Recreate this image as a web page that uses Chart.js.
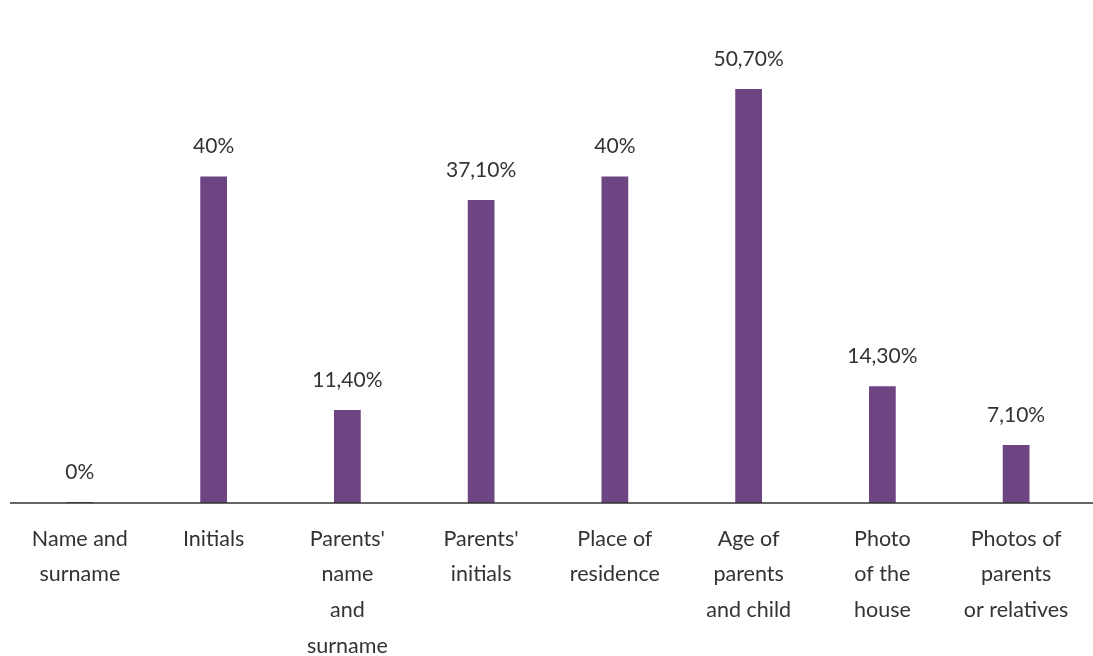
<!DOCTYPE html>
<html>
<head>
<meta charset="utf-8">
<script src="https://cdn.jsdelivr.net/npm/chart.js@4/dist/chart.umd.min.js"></script>
<style>
  html, body { margin: 0; padding: 0; background: #fff; }
  #wrap { width: 1093px; height: 656px; }
</style>
</head>
<body>
<div id="wrap"><canvas id="myChart" width="1093" height="656"></canvas></div>
<script>
const categorias = [
  ["Name and", "surname"],
  ["Initials"],
  ["Parents'", "name", "and", "surname"],
  ["Parents'", "initials"],
  ["Place of", "residence"],
  ["Age of", "parents", "and child"],
  ["Photo", "of the", "house"],
  ["Photos of", "parents", "or relatives"]
];
const valores = [0, 40, 11.4, 37.1, 40, 50.7, 14.3, 7.1];
const etiquetas = ["0%", "40%", "11,40%", "37,10%", "40%", "50,70%", "14,30%", "7,10%"];

const fuente = "Lato, 'Open Sans', sans-serif";
const colorTexto = "#333333";

// etiquetas de valor sobre cada barra + linea del eje
const plugins = [{
  id: "etiquetasValor",
  afterDatasetsDraw(chart) {
    const ctx = chart.ctx;
    const meta = chart.getDatasetMeta(0);
    ctx.save();
    ctx.font = "21px " + fuente;
    ctx.fillStyle = colorTexto;
    ctx.textAlign = "center";
    ctx.textBaseline = "middle";
    meta.data.forEach((bar, i) => {
      ctx.fillText(etiquetas[i], bar.x, bar.y - 30);
    });
    const y = chart.chartArea.bottom;
    ctx.strokeStyle = "#333333";
    ctx.lineWidth = 1.5;
    ctx.beginPath();
    ctx.moveTo(10, y);
    ctx.lineTo(1093, y);
    ctx.stroke();
    ctx.restore();
  }
}];

new Chart(document.getElementById("myChart").getContext("2d"), {
  type: "bar",
  data: {
    labels: categorias,
    datasets: [{
      data: valores,
      backgroundColor: "#6e4583",
      barPercentage: 0.2,
      categoryPercentage: 1,
      minBarLength: 1
    }]
  },
  options: {
    responsive: false,
    animation: false,
    layout: { padding: { left: 13, right: 10, top: 0, bottom: 0 } },
    plugins: { legend: { display: false }, tooltip: { enabled: false } },
    scales: {
      x: {
        grid: { display: false },
        border: { display: false },
        afterFit(scale) { scale.height = 153; },
        ticks: {
          color: colorTexto,
          font: { family: fuente, size: 21.5, lineHeight: 1.66 },
          padding: 10,
          maxRotation: 0,
          autoSkip: false
        }
      },
      y: {
        display: false,
        min: 0,
        max: 61.6
      }
    }
  },
  plugins: plugins
});
</script>
</body>
</html>
